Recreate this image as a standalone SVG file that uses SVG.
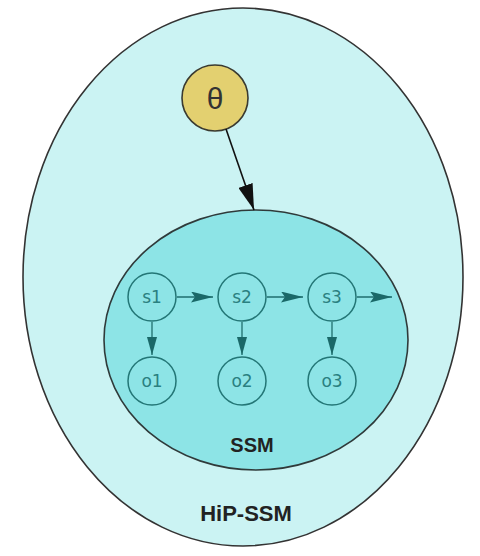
<svg xmlns="http://www.w3.org/2000/svg" width="480" height="556" viewBox="0 0 480 556">
<style>
.outer{fill:#cbf3f3;stroke:#333;stroke-width:1.6}
.inner{fill:#8de4e6;stroke:#2f3a3a;stroke-width:1.6}
.nd{fill:none;stroke:#237676;stroke-width:1.5}
.nt{font-family:"DejaVu Sans",sans-serif;font-size:17px;fill:#2a8080;text-anchor:middle;dominant-baseline:central}
.lbl{font-family:"Liberation Sans",Arial,sans-serif;font-weight:bold;fill:#222;text-anchor:middle}
.e{stroke:#1f6e6e;stroke-width:1.3;fill:none}
</style>
<defs>
<marker id="ah" viewBox="0 0 22 11" refX="22" refY="5.5" markerWidth="22" markerHeight="11" markerUnits="userSpaceOnUse" orient="auto">
<path d="M0,0 L22,5.5 L0,11 L4,5.5 Z" fill="#1a6868"/>
</marker>
<marker id="av" viewBox="0 0 18 10" refX="18" refY="5" markerWidth="18" markerHeight="10" markerUnits="userSpaceOnUse" orient="auto">
<path d="M0,0 L18,5 L0,10 Z" fill="#1a6868"/>
</marker>
<marker id="ab" viewBox="0 0 26 15" refX="26" refY="7.5" markerWidth="26" markerHeight="15" markerUnits="userSpaceOnUse" orient="auto">
<path d="M0,0 L26,7.5 L0,15 Z" fill="#111"/>
</marker>
</defs>
<g id="hipssm">
<ellipse class="outer" cx="243" cy="277" rx="220" ry="269"/>
<text class="lbl" x="246" y="521" font-size="22">HiP-SSM</text>
</g>
<g id="ssm">
<ellipse class="inner" cx="256" cy="340" rx="152" ry="130"/>
<text class="lbl" x="252" y="452" font-size="20">SSM</text>
</g>
<g id="theta">
<circle cx="215" cy="98" r="33" fill="#e3d070" stroke="#3a3a30" stroke-width="1.6"/>
<text x="215" y="98" font-family="Liberation Sans, Arial, sans-serif" font-size="30" fill="#333" text-anchor="middle" dominant-baseline="central">θ</text>
</g>
<g id="s1"><circle class="nd" cx="152" cy="297" r="24"/><text class="nt" x="152" y="297">s1</text></g>
<g id="s2"><circle class="nd" cx="242" cy="297" r="24"/><text class="nt" x="242" y="297">s2</text></g>
<g id="s3"><circle class="nd" cx="332" cy="297" r="24"/><text class="nt" x="332" y="297">s3</text></g>
<g id="o1"><circle class="nd" cx="152" cy="381" r="24"/><text class="nt" x="152" y="381">o1</text></g>
<g id="o2"><circle class="nd" cx="242" cy="381" r="24"/><text class="nt" x="242" y="381">o2</text></g>
<g id="o3"><circle class="nd" cx="332" cy="381" r="24"/><text class="nt" x="332" y="381">o3</text></g>
<g id="connectors">
<line x1="226" y1="129" x2="254" y2="210" stroke="#111" stroke-width="1.6" marker-end="url(#ab)"/>
<line class="e" x1="177" y1="297" x2="213" y2="297" marker-end="url(#ah)"/>
<line class="e" x1="267" y1="297" x2="303" y2="297" marker-end="url(#ah)"/>
<line class="e" x1="357" y1="297" x2="392" y2="297" marker-end="url(#ah)"/>
<line class="e" x1="152" y1="322" x2="152" y2="355" marker-end="url(#av)"/>
<line class="e" x1="242" y1="322" x2="242" y2="355" marker-end="url(#av)"/>
<line class="e" x1="332" y1="322" x2="332" y2="355" marker-end="url(#av)"/>
</g>
</svg>
